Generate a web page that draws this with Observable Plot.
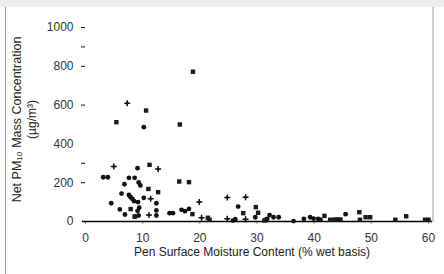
<!DOCTYPE html>
<html><head><meta charset="utf-8">
<script src="https://cdn.jsdelivr.net/npm/d3@7"></script>
<script src="https://cdn.jsdelivr.net/npm/@observablehq/plot@0.6"></script>
<style>
body{margin:0;background:#fff;}
#wrap{position:relative;width:444px;height:274px;overflow:hidden;background:#fff;}
#topband{position:absolute;left:0;top:0;width:444px;height:7px;background:#eeeeee;}
#leftline{position:absolute;left:5px;top:7px;width:1px;height:267px;background:#999;}
#rightline{position:absolute;left:432px;top:7px;width:2px;height:215px;background:#ccc;}
</style></head>
<body><div id="wrap"></div>
<script>
const xTicks = [0, 10, 20, 30, 40, 50, 60];
const yLabels = [0, 200, 400, 600, 800, 1000];
const yTickMarks = [200, 300, 600, 800, 900, 1000];
const xTitle = "Pen Surface Moisture Content (% wet basis)";
const yTitle1 = "Net PM\u2081\u2080 Mass Concentration";
const yTitle2 = "(\u00b5g/m\u00b3)";

const circleX = [3.1,3.9,7.6,8.6,9.1,9.3,6.8,9.6,6.3,7.6,7.9,8.2,10.2,8.5,9.2,12.4,4.5,9.4,6.0,9.1,12.4,12.4,6.9,9.3,8.7,10.2,14.7,15.3,16.8,17.4,18.1,26.7,25.8,26.2,29.7,32.2,32.9,33.8,31.5,31.8,36.4,38.2,39.3,39.9,40.7,41.1,45.5];
const circleY = [228,228,225,225,275,201,192,186,144,137,125,117,122,105,100,94,94,71,62,55,57,31,36,31,26,486,43,43,60,53,65,77,5,12,22,33,22,22,9,14,2,14,22,15,14,9,38];

const squareX = [5.4,10.6,18.8,16.5,11.2,11.0,12.7,7.9,8.6,16.4,18.1,18.7,27.6,21.4,21.7,29.8,30.2,31.3,41.8,42.8,43.5,44.2,44.6,43.8,47.9,49.0,49.8,48.0,54.2,56.1,59.4,60.0];
const squareY = [512,572,772,500,292,168,151,64,25,206,203,38,43,19,9,74,45,5,29,9,9,9,10,10,48,22,22,9,9,27,9,9];

const plusX = [7.3,4.95,12.7,11.4,11.1,19.9,24.8,28.0,20.3,24.8,28.0];
const plusY = [610,283,270,117,33,101,124,125,19,14,12];

const toRows = (xs, ys) => xs.map((x, i) => ({x, y: ys[i]}));
const circles = toRows(circleX, circleY);
const squares = toRows(squareX, squareY);
const pluses = toRows(plusX, plusY);

const font = "'Liberation Sans', Arial, sans-serif";
const chart = Plot.plot({
  width: 444, height: 274,
  marginLeft: 85, marginRight: 16, marginTop: 27, marginBottom: 53,
  style: {fontFamily: font, fontSize: "12px", background: "transparent", color: "#222"},
  x: {domain: [0, 60]},
  y: {domain: [0, 1000]},
  marks: [
    Plot.axisX(xTicks, {tickSize: 3, tickPadding: 9, stroke: "#999", fill: "#333", label: null, fontSize: 12}),
    Plot.axisY(yLabels, {tickSize: 0, tickPadding: 12, fill: "#333", label: null, fontSize: 12, tickFormat: d3.format("d")}),
    Plot.axisY(yTickMarks, {tickSize: 4, tickFormat: () => "", stroke: "#111", label: null}),
    Plot.ruleY([0], {insetLeft: -3, insetRight: -4, stroke: "#000", strokeWidth: 1.5}),
    Plot.dot(circles, {x: "x", y: "y", r: 2.4, fill: "#111", stroke: "none"}),
    Plot.dot(squares, {x: "x", y: "y", r: 2.5, symbol: "square", fill: "#1a1a1a", stroke: "none"}),
    Plot.dot(pluses, {x: "x", y: "y", r: 2.1, symbol: "plus", stroke: "#111", strokeWidth: 1.5}),
    Plot.dot(pluses, {x: "x", y: "y", r: 1.3, fill: "#111", stroke: "none"}),
    Plot.text([xTitle], {frameAnchor: "bottom", dy: 34, dx: -5, fontSize: 12, fill: "#222"}),
    Plot.text([yTitle1], {frameAnchor: "left", textAnchor: "middle", rotate: -90, dx: -69, dy: -5, fontSize: 12.5, fill: "#222"}),
    Plot.text([yTitle2], {frameAnchor: "left", textAnchor: "middle", rotate: -90, dx: -53, dy: -5, fontSize: 12, fill: "#222"})
  ]
});
const wrap = document.getElementById("wrap");
wrap.appendChild(chart);
chart.style.position = "absolute"; chart.style.left = "0"; chart.style.top = "0";
for (const id of ["topband", "leftline", "rightline"]) {
  const d = document.createElement("div"); d.id = id; wrap.appendChild(d);
}
</script></body></html>
